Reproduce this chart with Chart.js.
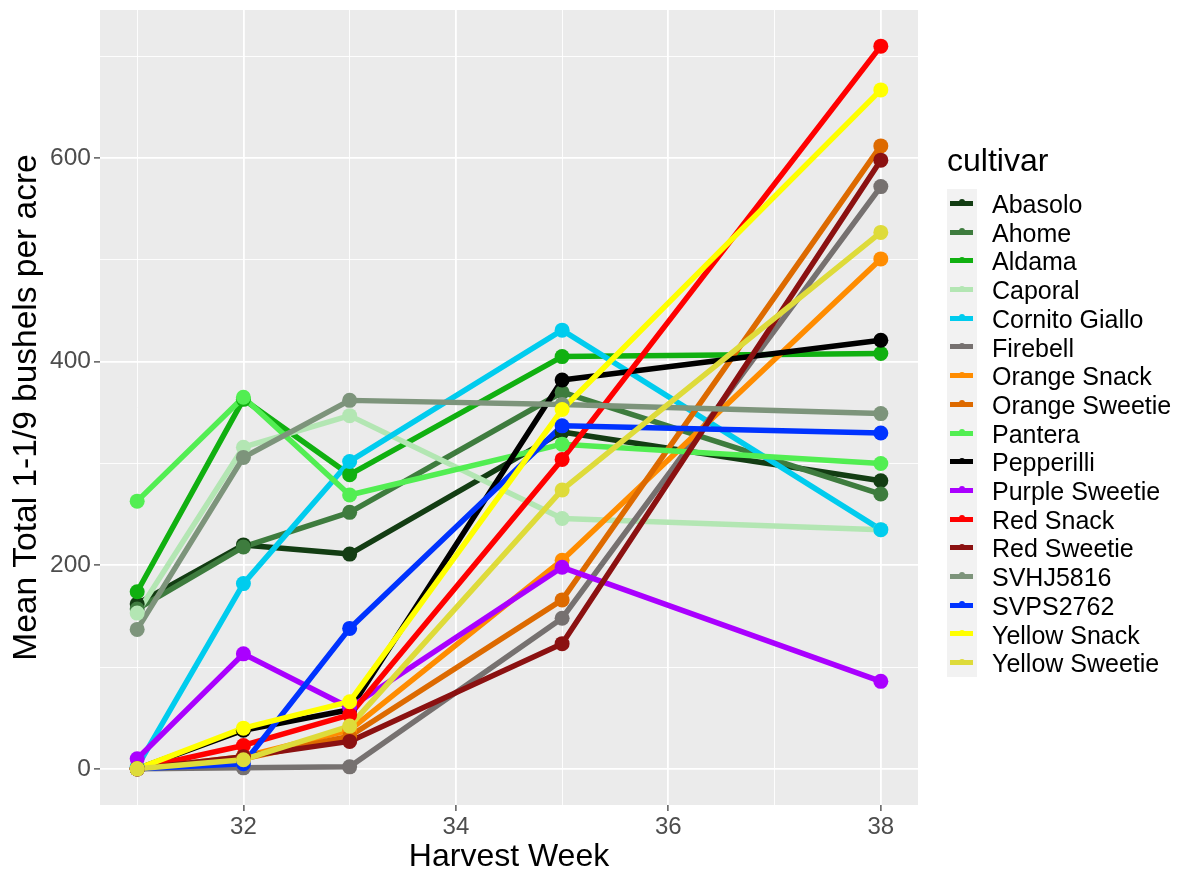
<!DOCTYPE html>
<html>
<head>
<meta charset="utf-8">
<script src="https://cdn.jsdelivr.net/npm/chart.js@4.4.1/dist/chart.umd.min.js"></script>
<style>
  html, body { margin: 0; padding: 0; background: #ffffff; }
  #wrap { position: relative; width: 1187px; height: 876px; font-family: "Liberation Sans", Arial, sans-serif; }
  #c { position: absolute; left: 0; top: 0; }
  #legend { position: absolute; left: 0; top: 0; width: 1187px; height: 876px; pointer-events: none; }
  .ltitle { position: absolute; left: 947px; font-size: 32px; color: #000; line-height: 40px; }
  .strip { position: absolute; left: 947px; width: 30px; background: #f2f2f2; }
  .kline { position: absolute; left: 950px; width: 23px; height: 5px; }
  .kdot { position: absolute; width: 6px; height: 6px; border-radius: 50%; }
  .ltext { position: absolute; left: 992px; font-size: 25px; color: #000; white-space: nowrap; }
</style>
</head>
<body>
<div id="wrap">
  <canvas id="c" width="1187" height="876"></canvas>
  <div id="legend"></div>
</div>
<script>
// ---- data ----
const weeks = [31, 32, 33, 35, 38];
const cultivars = ["Abasolo", "Ahome", "Aldama", "Caporal", "Cornito Giallo", "Firebell",
  "Orange Snack", "Orange Sweetie", "Pantera", "Pepperilli", "Purple Sweetie", "Red Snack",
  "Red Sweetie", "SVHJ5816", "SVPS2762", "Yellow Snack", "Yellow Sweetie"];
const colors = ["#133d13", "#3e7c3e", "#10b010", "#b3e6b3", "#00ccee", "#767170",
  "#ff8c00", "#dd6a00", "#52ee52", "#000000", "#aa00ff", "#ff0000",
  "#8b1111", "#7d947b", "#0033ff", "#ffff00", "#dedb3a"];

const abasolo       = [162, 220, 211, 331, 283];
const ahome         = [157, 218, 252, 370, 270];
const aldama        = [174, 363, 289, 405, 408];
const caporal       = [153, 316, 347, 246, 235];
const cornitoGiallo = [2, 182, 302, 431, 235];
const firebell      = [0, 1, 2, 148, 572];
const orangeSnack   = [0, 12, 38, 205, 501];
const orangeSweetie = [0, 10, 32, 166, 612];
const pantera       = [263, 365, 269, 319, 300];
const pepperilli    = [0, 38, 58, 382, 421];
const purpleSweetie = [10, 113, 60, 198, 86];
const redSnack      = [0, 23, 53, 304, 710];
const redSweetie    = [0, 12, 27, 123, 598];
const svhj5816      = [137, 306, 362, 358, 349];
const svps2762      = [0, 5, 138, 337, 330];
const yellowSnack   = [0, 40, 66, 353, 667];
const yellowSweetie = [0, 9, 42, 274, 527];

const seriesValues = [abasolo, ahome, aldama, caporal, cornitoGiallo, firebell, orangeSnack,
  orangeSweetie, pantera, pepperilli, purpleSweetie, redSnack, redSweetie, svhj5816, svps2762,
  yellowSnack, yellowSweetie];

const xTicks = [31, 32, 33, 34, 35, 36, 37, 38];
const xLabelTicks = [32, 34, 36, 38];
const yTicks = [0, 100, 200, 300, 400, 500, 600, 700];
const yLabelTicks = [0, 200, 400, 600];

// ---- build datasets (lines layer, then points layer, like ggplot) ----
const datasets = [];
seriesValues.forEach((vals, i) => {
  const pts = weeks.map((w, j) => ({ x: w, y: vals[j] }));
  datasets.push({
    label: cultivars[i], data: pts, borderColor: colors[i], backgroundColor: colors[i],
    borderWidth: 5.5, pointRadius: 0, pointHoverRadius: 0, borderJoinStyle: 'round',
    borderCapStyle: 'butt', tension: 0, order: 200 - i, showLine: true
  });
});
seriesValues.forEach((vals, i) => {
  const pts = weeks.map((w, j) => ({ x: w, y: vals[j] }));
  datasets.push({
    label: cultivars[i] + ' pts', data: pts, borderColor: colors[i], backgroundColor: colors[i],
    showLine: false, pointRadius: 7.5, pointHoverRadius: 7.5, pointBorderWidth: 0,
    pointBackgroundColor: colors[i], order: 100 - i
  });
});

const FONT = '"Liberation Sans", Arial, sans-serif';

const panelBg = {
  id: 'panelBg',
  beforeDraw(chart) {
    const { ctx, chartArea: a } = chart;
    ctx.save();
    ctx.fillStyle = '#ebebeb';
    ctx.fillRect(a.left, a.top, a.right - a.left, a.bottom - a.top);
    ctx.restore();
  }
};

function isMajor(list, v) { return list.some(t => Math.abs(t - v) < 1e-6); }

new Chart(document.getElementById('c'), {
  type: 'scatter',
  data: { datasets },
  options: {
    responsive: false,
    devicePixelRatio: 1,
    animation: false,
    events: [],
    layout: { padding: { top: 10, right: 269, left: 0, bottom: 0 } },
    plugins: { legend: { display: false }, tooltip: { enabled: false } },
    scales: {
      x: {
        type: 'linear', min: 30.65, max: 38.35,
        afterBuildTicks: s => { s.ticks = xTicks.map(v => ({ value: v })); },
        afterFit: s => { s.height = 71; s.paddingLeft = 0; s.paddingRight = 0; },
        border: { display: false },
        grid: {
          color: '#ffffff',
          lineWidth: c => (c.tick && isMajor(xLabelTicks, c.tick.value)) ? 1.8 : 0.9,
          tickLength: 6,
          tickColor: c => (c.tick && isMajor(xLabelTicks, c.tick.value)) ? '#333333' : 'rgba(0,0,0,0)',
          tickWidth: 1.2
        },
        ticks: {
          autoSkip: false, maxRotation: 0, padding: 2, color: '#4d4d4d',
          font: { size: 24, family: FONT },
          callback: v => isMajor(xLabelTicks, v) ? String(Math.round(v)) : ''
        },
        title: { display: true, text: 'Harvest Week', color: '#000000', padding: 0,
          font: { size: 32, family: FONT } }
      },
      y: {
        type: 'linear', min: -35.5, max: 745.5,
        afterBuildTicks: s => { s.ticks = yTicks.map(v => ({ value: v })); },
        afterFit: s => { s.width = 100; s.paddingTop = 0; s.paddingBottom = 0; },
        border: { display: false },
        grid: {
          color: '#ffffff',
          lineWidth: c => (c.tick && isMajor(yLabelTicks, c.tick.value)) ? 1.8 : 0.9,
          tickLength: 6,
          tickColor: c => (c.tick && isMajor(yLabelTicks, c.tick.value)) ? '#333333' : 'rgba(0,0,0,0)',
          tickWidth: 1.2
        },
        ticks: {
          autoSkip: false, padding: 3, color: '#4d4d4d',
          font: { size: 24.5, family: FONT },
          callback: v => isMajor(yLabelTicks, v) ? String(Math.round(v)) : ''
        },
        title: { display: true, text: 'Mean Total 1-1/9 bushels per acre', color: '#000000',
          padding: { top: 7, bottom: 0 }, font: { size: 33.5, family: FONT } }
      }
    }
  },
  plugins: [panelBg]
});

// ---- legend (HTML text) ----
const lg = document.getElementById('legend');
const rowH = 28.7, firstTop = 189;
let html = '<div class="ltitle" style="top:140px">cultivar</div>';
html += `<div class="strip" style="top:${firstTop}px;height:${(rowH * cultivars.length).toFixed(1)}px"></div>`;
cultivars.forEach((name, i) => {
  const cy = firstTop + rowH * i + rowH / 2;
  html += `<div class="kline" style="top:${(cy - 2.5).toFixed(1)}px;background:${colors[i]}"></div>`;
  html += `<div class="kdot" style="left:${958.5}px;top:${(cy - 4).toFixed(1)}px;background:${colors[i]}"></div>`;
  html += `<div class="ltext" style="top:${(cy - rowH / 2 + 1).toFixed(1)}px;line-height:${rowH}px">${name}</div>`;
});
lg.innerHTML = html;
</script>
</body>
</html>
